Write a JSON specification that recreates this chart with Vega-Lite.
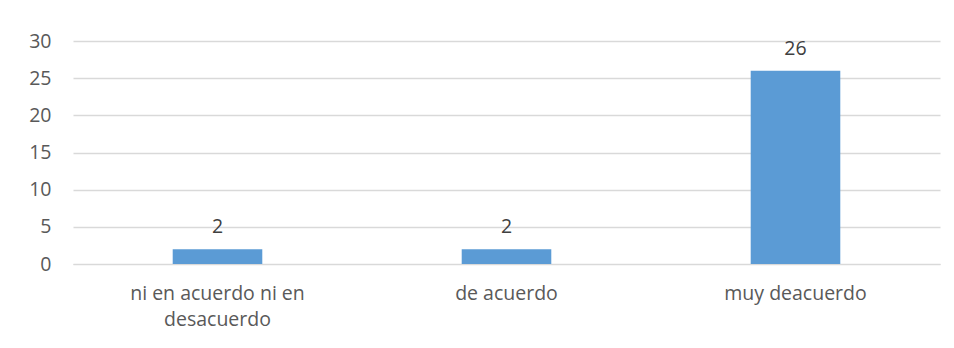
{
  "$schema": "https://vega.github.io/schema/vega-lite/v6.json",
  "autosize": "none",
  "width": 867,
  "height": 223,
  "padding": {"left": 73, "top": 41, "right": 14, "bottom": 84},
  "background": "white",
  "config": {
    "view": {"stroke": null},
    "font": "Open Sans"
  },
  "data": {
    "values": [
      {"categoria": "ni en acuerdo ni en desacuerdo", "valor": 2},
      {"categoria": "de acuerdo", "valor": 2},
      {"categoria": "muy deacuerdo", "valor": 26}
    ]
  },
  "encoding": {
    "x": {
      "field": "categoria",
      "type": "nominal",
      "sort": null,
      "scale": {"paddingInner": 0.69, "paddingOuter": 0.345},
      "axis": {
        "title": null,
        "labelAngle": 0,
        "labelFontSize": 19.5,
        "labelColor": "#595959",
        "labelPadding": 20,
        "labelLineHeight": 26,
        "ticks": false,
        "domainColor": "#D9D9D9",
        "labelExpr": "datum.label == 'ni en acuerdo ni en desacuerdo' ? ['ni en acuerdo ni en', 'desacuerdo'] : datum.label"
      }
    },
    "y": {
      "field": "valor",
      "type": "quantitative",
      "scale": {"domain": [0, 30]},
      "axis": {
        "title": null,
        "values": [0, 5, 10, 15, 20, 25, 30],
        "labelFontSize": 19.5,
        "labelColor": "#595959",
        "labelPadding": 22,
        "ticks": false,
        "domain": false,
        "gridColor": "#D9D9D9",
        "gridWidth": 1.3
      }
    }
  },
  "layer": [
    {"mark": {"type": "bar", "color": "#5B9BD5"}},
    {
      "mark": {"type": "text", "baseline": "alphabetic", "dy": -16, "fontSize": 19.5, "color": "#404040"},
      "encoding": {"text": {"field": "valor", "type": "quantitative"}}
    }
  ]
}
